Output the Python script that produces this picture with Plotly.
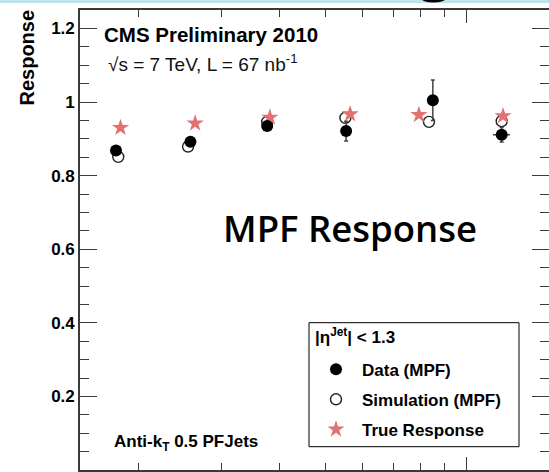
import plotly.graph_objects as go

# MPF response vs jet pT, |eta| < 1.3 (anti-kT 0.5 PF jets)
pt_data = [17.9, 25.8, 37.6, 55.4, 84.8, 118.9]
resp_data = [0.868, 0.892, 0.935, 0.921, 1.005, 0.911]
err_data = [0.008, 0.008, 0.010, 0.027, 0.055, 0.020]
pt_err_data = [0.3, 0.5, 0.8, 1.2, 2.0, 5.0]

pt_sim = [18.1, 25.5, 37.6, 55.2, 83.2, 118.9]
resp_sim = [0.851, 0.879, 0.946, 0.957, 0.946, 0.948]

pt_true = [18.3, 26.4, 38.1, 56.5, 79.2, 119.7]
resp_true = [0.930, 0.942, 0.958, 0.967, 0.965, 0.962]

y_major = [0, 0.2, 0.4, 0.6, 0.8, 1.0, 1.2]
x_major = [100]
x_minor = [20, 30, 40, 50, 60, 70, 80, 90]

W, H = 549, 472
ML, MR, MT, MB = 80, 0, 10, 2
PW, PH = W - ML - MR, H - MT - MB


def px(x):
    return (x - ML) / PW


def py(y):
    return (H - MB - y) / PH


FONT = "Liberation Sans, Arial, sans-serif"
AXC = "#3a3a3a"
LEG_FONT = 17

fig = go.Figure()

fig.add_trace(go.Scatter(
    x=pt_sim, y=resp_sim, mode="markers", name="Simulation (MPF)",
    legendgroup="sim", legendrank=2,
    marker=dict(symbol="circle-open", size=11, color="#222222",
                line=dict(width=1.4, color="#222222")),
))
fig.add_trace(go.Scatter(
    x=pt_true, y=resp_true, mode="markers", name="True Response",
    legendgroup="true", legendrank=3,
    marker=dict(symbol="star", size=13, color="#e27272", line=dict(width=0)),
))
fig.add_trace(go.Scatter(
    x=pt_data, y=resp_data, mode="markers", name="Data (MPF)",
    legendgroup="data", legendrank=1,
    marker=dict(symbol="circle", size=12, color="black"),
    error_y=dict(type="data", array=err_data, color="#444444",
                 thickness=1.5, width=2),
    error_x=dict(type="data", array=pt_err_data, color="#444444",
                 thickness=1.5, width=0),
))

annotations = [
    dict(text="<b>CMS Preliminary 2010</b>", x=px(102), y=py(34),
         font=dict(size=20.5, family=FONT, color="black")),
    dict(text="√s = 7 TeV, L = 67 nb<sup>-1</sup>", x=px(106), y=py(63),
         font=dict(size=19, family=FONT, color="#111111")),
    dict(text="<b>Anti-k<sub>T</sub> 0.5 PFJets</b>", x=px(112), y=py(443),
         font=dict(size=17, family=FONT, color="black")),
    dict(text="MPF Response", x=px(221), y=py(228),
         font=dict(size=36.5, family="Open Sans, sans-serif", color="black",
                   weight=650)),
    dict(text="<b>|η<sup>Jet</sup>| < 1.3</b>", x=px(313), y=py(336),
         font=dict(size=17, family=FONT, color="black")),
]
for a in annotations:
    a.update(xref="paper", yref="paper", xanchor="left", yanchor="middle",
             showarrow=False)
annotations.append(dict(
    text="<b>Response</b>", x=px(26), y=py(57.5), xref="paper", yref="paper",
    xanchor="center", yanchor="middle", textangle=-90, showarrow=False,
    font=dict(size=20, family=FONT, color="black"),
))

shapes = [
    # slide banner strip along the top edge
    dict(type="rect", xref="paper", yref="paper", x0=px(0), x1=px(W),
         y0=py(3), y1=py(0), fillcolor="#bfe3ea", line=dict(width=0),
         layer="above"),
    dict(type="circle", xref="paper", yref="paper", x0=px(422), x1=px(445),
         y0=py(2.5), y1=py(-4), fillcolor="black", line=dict(width=0),
         layer="above"),
    # legend frame
    dict(type="rect", xref="paper", yref="paper", x0=px(309), x1=px(519),
         y0=py(446.7), y1=py(322.7), fillcolor="white",
         line=dict(color="black", width=1), layer="below"),
]

axis_common = dict(
    showgrid=False, zeroline=False, showline=True, linecolor=AXC,
    linewidth=1.6, mirror="ticks", ticks="inside", tickcolor=AXC,
    tickwidth=1.3,
)

item_h = LEG_FONT * 1.3 + 3

fig.update_layout(
    width=W, height=H,
    margin=dict(l=ML, r=MR, t=MT, b=MB, autoexpand=False),
    paper_bgcolor="white", plot_bgcolor="white",
    font=dict(family=FONT, color="black"),
    xaxis=dict(
        type="log", range=[1.176091, 2.176091],
        tickmode="array", tickvals=x_major, ticklen=13,
        showticklabels=False,
        minor=dict(tickmode="array", tickvals=x_minor, ticklen=7,
                   ticks="inside", tickcolor=AXC, tickwidth=1.3),
        **axis_common,
    ),
    yaxis=dict(
        range=[0, 1.25], tickmode="array", tickvals=y_major,
        ticktext=["0", "0.2", "0.4", "0.6", "0.8", "1", "1.2"],
        ticklen=17,
        tickfont=dict(size=17, family=FONT, color="black", weight="bold"),
        minor=dict(dtick=0.05, tick0=0, ticklen=9, ticks="inside",
                   tickcolor=AXC, tickwidth=1.3),
        **axis_common,
    ),
    showlegend=True,
    legend=dict(
        x=px(310), y=py(369.3 - item_h / 2 - 5), xanchor="left",
        yanchor="top", bgcolor="rgba(0,0,0,0)", borderwidth=0,
        itemwidth=42, tracegroupgap=30 - item_h,
        font=dict(size=LEG_FONT, family=FONT, color="black", weight="bold"),
    ),
    annotations=annotations,
    shapes=shapes,
)

fig.write_html("out.html")
